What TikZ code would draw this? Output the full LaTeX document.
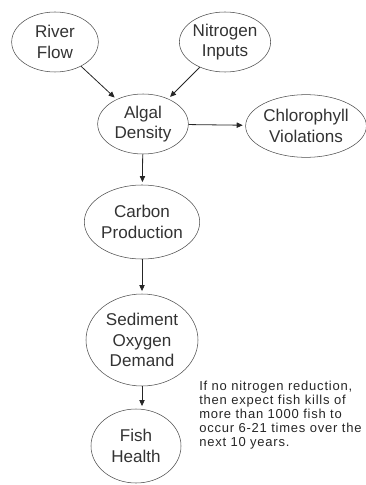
\documentclass[tikz,border=0pt]{standalone}
\usepackage{fontspec}
\setmainfont{Liberation Sans}
\newfontfamily\notefont[LetterSpace=6]{Liberation Sans}
\usetikzlibrary{shapes.geometric,arrows.meta}

\begin{document}
\begin{tikzpicture}[x=0.75pt,y=-0.75pt,
	bubble/.style={draw=black!70, ellipse, inner sep=0pt, align=center, text=black!80, font=\fontsize{12.8}{15.5}\selectfont},
	link/.style={-{Triangle[length=4.5pt,width=4pt]}, black!85, line width=0.6pt, shorten >=2pt}]
		\useasboundingbox (0,0) rectangle (365,485);
		
		% WRITE THE BUBBLES
		\node[bubble, minimum width=65pt, minimum height=45pt] (river) at (55,42) {River\\Flow};
		\node[bubble, minimum width=62pt, minimum height=45pt] (nitrogen) at (225,42) {Nitrogen\\Inputs};
		\node[bubble, minimum width=68pt, minimum height=45pt] (algal) at (143,124) {Algal\\Density};
		\node[bubble, minimum width=80pt, minimum height=47pt] (chloro) at (306,126) {Chlorophyll\\Violations};
		\node[bubble, minimum width=81pt, minimum height=55.5pt] (carbon) at (142,222) {Carbon\\Production};
		\node[bubble, minimum width=84pt, minimum height=69pt] (sediment) at (142,340) {Sediment\\Oxygen\\Demand};
		\node[bubble, minimum width=67.5pt, minimum height=55.5pt] (fish) at (136,446) {Fish\\Health};
		
		% DRAW THE ARROWS
		\draw[link] (river) -- (algal);
		\draw[link] (nitrogen) -- (algal);
		\draw[link] (algal) -- (chloro);
		\draw[link] (algal) -- (carbon);
		\draw[link] (carbon) -- (sediment);
		\draw[link] (sediment.south) -- (sediment.south |- fish.north);
		
		% DRAW NOTE
		\node[anchor=north west, inner sep=0pt, align=left, text=black!85, font=\notefont\fontsize{9.75}{10.5}\selectfont] (note) at (199,381)
			{If no nitrogen reduction,\\then expect fish kills of\\more than 1000 fish to\\occur 6-21 times over the\\next 10 years.};
	\end{tikzpicture}
\end{document}
